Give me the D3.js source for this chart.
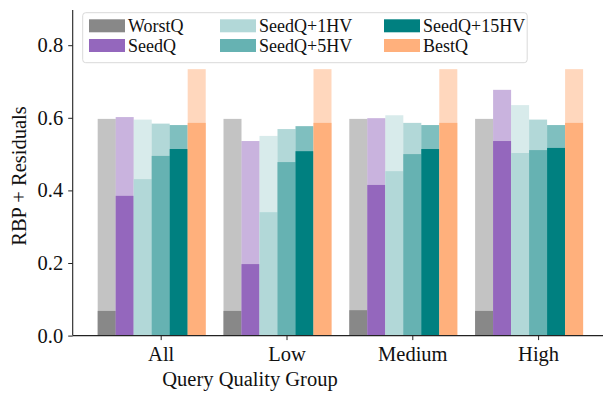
<!DOCTYPE html>
<html><head><meta charset="utf-8">
<script src="https://cdn.jsdelivr.net/npm/d3@7"></script>
<style>body{margin:0;background:#fff}svg{display:block}text{font-family:"Liberation Serif","DejaVu Serif",serif;fill:#111}</style>
</head><body><svg id="c" width="603" height="394"></svg>
<script>
const groups = ["All","Low","Medium","High"];
const series = ["WorstQ","SeedQ","SeedQ+1HV","SeedQ+5HV","SeedQ+15HV","BestQ"];
const colors = ["#888888","#9467bd","#b2d8d8","#66b2b2","#008080","#ffb07c"];
// RBP (solid part) per series, per group
const rbp = [
  [0.068,0.068,0.070,0.068],
  [0.385,0.197,0.415,0.536],
  [0.431,0.340,0.453,0.503],
  [0.495,0.478,0.500,0.511],
  [0.514,0.508,0.514,0.517],
  [0.586,0.586,0.586,0.586]
];
// RBP + Residuals (total height)
const total = [
  [0.597,0.597,0.597,0.597],
  [0.602,0.536,0.599,0.677],
  [0.595,0.550,0.607,0.635],
  [0.584,0.569,0.586,0.595],
  [0.580,0.577,0.580,0.580],
  [0.734,0.734,0.734,0.734]
];
const yTicks = [0,0.2,0.4,0.6,0.8];

const svg = d3.select("#c");
const left = 72.7, right = 603, y0px = 335.6, pxPerUnit = 363;
const y = d3.scaleLinear().domain([0, 0.8]).range([y0px, y0px - 0.8*pxPerUnit]);
const x = d3.scaleLinear().domain([0, 3]).range([160.7, 160.7 + 3*125.8]);
const barW = 18;

const g = svg.append("g");
series.forEach((s, i) => {
  groups.forEach((grp, j) => {
    const cx = x(j) + (i - 3) * barW;
    g.append("rect").attr("x", cx - barW/2).attr("width", barW)
      .attr("y", y(total[i][j])).attr("height", y(0) - y(total[i][j]))
      .attr("fill", colors[i]).attr("fill-opacity", 0.5);
    g.append("rect").attr("x", cx - barW/2).attr("width", barW)
      .attr("y", y(rbp[i][j])).attr("height", y(0) - y(rbp[i][j]))
      .attr("fill", colors[i]);
  });
});

// axes
const yAxis = d3.axisLeft(y).tickValues(yTicks).tickFormat(d3.format(".1f")).tickSize(4.5).tickPadding(5);
const ya = svg.append("g").attr("transform", `translate(${left},0)`).call(yAxis);
ya.select(".domain").attr("d", `M0,${y0px}V10`).attr("stroke","#222").attr("stroke-width",1.1);
ya.selectAll(".tick line").attr("stroke","#222");
ya.selectAll("text").style("font-size","20.5px").attr("fill","#111");

const xAxis = d3.axisBottom(x).tickValues([0,1,2,3]).tickFormat(i => groups[i]).tickSize(4.5).tickPadding(6);
const xa = svg.append("g").attr("transform", `translate(0,${y0px})`).call(xAxis);
xa.select(".domain").attr("d", `M${left},0H${right}`).attr("stroke","#222").attr("stroke-width",1.1);
xa.selectAll(".tick line").attr("stroke","#222");
xa.selectAll("text").style("font-size","20.5px").attr("fill","#111");

svg.append("text").attr("x", 250).attr("y", 386).attr("text-anchor","middle")
  .style("font-size","20.5px").text("Query Quality Group");
svg.append("text").attr("transform","translate(26,176) rotate(-90)").attr("text-anchor","middle")
  .style("font-size","20.5px").text("RBP + Residuals");

// legend
const lg = svg.append("g");
lg.append("rect").attr("x",82.7).attr("y",12.7).attr("width",444.5).attr("height",50)
  .attr("rx",3).attr("fill","#fff").attr("fill-opacity",0.8).attr("stroke","#d9d9d9");
const colX = [89, 220, 384];
const rowY = [19.3, 39];
series.forEach((s, i) => {
  const col = Math.floor(i/2), row = i % 2;
  lg.append("rect").attr("x", colX[col]).attr("y", rowY[row]).attr("width", 36).attr("height", 13)
    .attr("fill", colors[i]);
  lg.append("text").attr("x", colX[col] + 39).attr("y", rowY[row] + 12.5)
    .style("font-size","18px").text(s);
});
</script></body></html>
